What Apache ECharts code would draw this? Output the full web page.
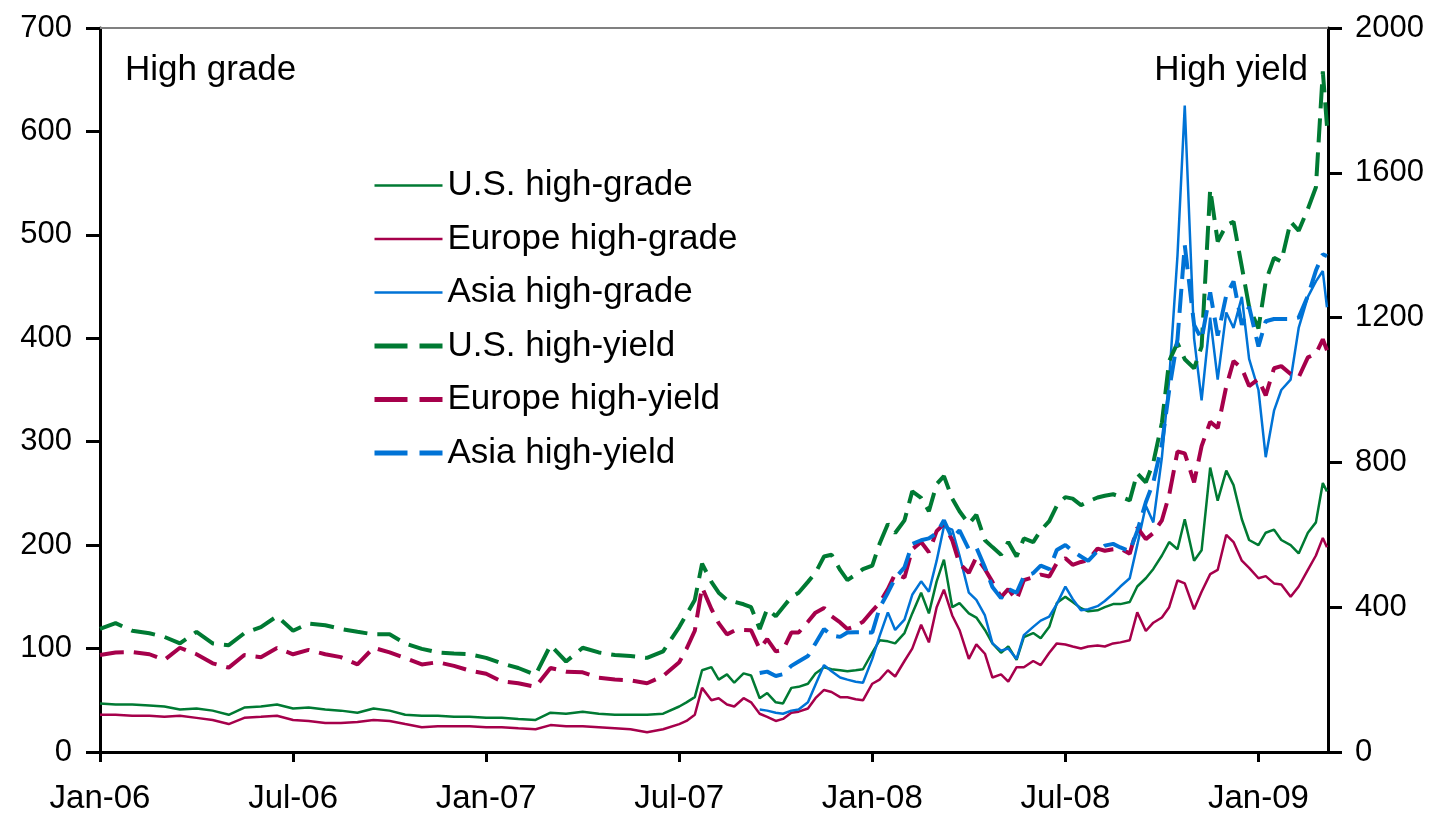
<!DOCTYPE html>
<html>
<head>
<meta charset="utf-8">
<script src="https://cdn.jsdelivr.net/npm/echarts@6/dist/echarts.min.js"></script>
<style>
  html, body { margin: 0; padding: 0; background: #fff; }
  #chart { width: 1438px; height: 816px; }
</style>
</head>
<body>
<div id="chart"></div>
<script>
// sample dates: twice a month to mid 2007, then roughly weekly
var dates = [
  '2006-01-01','2006-01-16','2006-02-01','2006-02-16','2006-03-01','2006-03-16','2006-04-01','2006-04-16',
  '2006-05-01','2006-05-16','2006-06-01','2006-06-16','2006-07-01','2006-07-16','2006-08-01','2006-08-16',
  '2006-09-01','2006-09-16','2006-10-01','2006-10-16','2006-11-01','2006-11-16','2006-12-01','2006-12-16',
  '2007-01-01','2007-01-16','2007-02-01','2007-02-16','2007-03-01','2007-03-16','2007-04-01','2007-04-16',
  '2007-05-01','2007-05-16','2007-06-01','2007-06-16',
  '2007-07-01','2007-07-08','2007-07-16','2007-07-23','2007-08-01','2007-08-08','2007-08-16','2007-08-23',
  '2007-09-01','2007-09-08','2007-09-16','2007-09-23','2007-10-01','2007-10-08','2007-10-16','2007-10-23',
  '2007-11-01','2007-11-08','2007-11-16','2007-11-23','2007-12-01','2007-12-08','2007-12-16','2007-12-23',
  '2008-01-01','2008-01-08','2008-01-16','2008-01-23','2008-02-01','2008-02-08','2008-02-16','2008-02-23',
  '2008-03-01','2008-03-08','2008-03-16','2008-03-23','2008-04-01','2008-04-08','2008-04-16','2008-04-23',
  '2008-05-01','2008-05-08','2008-05-16','2008-05-23','2008-06-01','2008-06-08','2008-06-16','2008-06-23',
  '2008-07-01','2008-07-08','2008-07-16','2008-07-23','2008-08-01','2008-08-08','2008-08-16','2008-08-23',
  '2008-09-01','2008-09-08','2008-09-16','2008-09-23','2008-10-01','2008-10-08','2008-10-16','2008-10-23',
  '2008-11-01','2008-11-08','2008-11-16','2008-11-23','2008-12-01','2008-12-08','2008-12-16','2008-12-23',
  '2009-01-01','2009-01-08','2009-01-16','2009-01-23','2009-02-01','2009-02-08','2009-02-16','2009-02-23',
  '2009-03-01','2009-03-05'
];
// Asia series start later
var asiaStart = '2007-09-16';

// high grade (left axis, bp)
var usHG = [47,46,46,45,44,41,42,40,36,43,44,46,42,43,41,40,38,42,40,36,35,35,34,34,33,33,32,31,38,37,39,37,36,36,36,37,
  44,48,53,79,82,70,75,67,76,74,52,57,48,47,62,63,66,76,82,80,79,78,79,80,96,108,107,105,115,134,154,134,165,186,140,144,
  134,130,118,105,96,102,89,111,115,110,121,144,150,145,139,136,137,140,143,143,145,160,168,177,190,203,196,225,185,195,
  275,243,272,258,225,205,200,212,215,205,200,192,212,222,260,252];
var europeHG = [36,36,35,35,34,35,33,31,27,33,34,35,31,30,28,28,29,31,30,27,24,25,25,25,24,24,23,22,26,25,25,24,23,22,19,22,
  27,30,36,62,50,52,46,44,52,48,37,34,30,32,38,39,42,52,60,58,53,53,51,50,66,70,79,73,88,100,123,106,140,157,132,118,
  90,104,95,72,75,68,82,82,88,84,96,105,104,102,100,102,103,102,105,106,108,135,117,125,130,140,166,163,138,155,
  172,176,210,203,185,178,168,170,163,162,150,160,176,190,207,198];
var asiaHG = [41,40,38,37,40,41,48,65,84,78,72,70,68,67,90,112,135,118,128,152,165,155,185,218,215,190,154,147,132,105,
  98,100,90,113,121,127,131,143,160,148,137,138,141,146,153,160,168,200,238,222,285,360,480,625,400,340,420,360,425,410,
  440,380,350,285,330,350,360,410,440,455,465,430];

// high yield (right axis, bp)
var usHY = [340,356,335,328,318,300,332,300,295,328,345,375,335,355,350,340,332,325,325,300,285,275,272,270,260,245,232,213,295,250,288,275,268,265,260,278,
  345,380,420,520,470,440,420,415,408,400,340,395,375,400,428,440,470,495,540,545,503,475,490,505,515,575,630,605,640,720,
  702,665,740,762,700,665,630,655,585,566,545,580,540,590,580,612,638,680,704,700,682,692,703,708,712,705,695,770,745,800,
  910,1080,1130,1085,1060,1120,1555,1410,1455,1465,1340,1230,1170,1300,1365,1355,1465,1440,1500,1560,1880,1730];
var europeHY = [268,275,276,270,254,288,270,245,233,268,262,287,270,282,270,262,242,288,275,260,242,248,238,225,216,195,190,180,232,222,220,205,200,198,190,210,
  248,285,335,455,395,356,325,335,337,336,285,312,278,282,330,330,360,385,398,375,358,340,348,360,390,412,450,492,482,560,
  580,552,610,630,585,520,495,538,505,470,428,450,420,475,483,490,485,522,535,517,525,530,562,556,560,562,548,620,588,605,
  640,710,830,825,745,845,912,895,1010,1080,1060,1011,1030,985,1060,1066,1044,1035,1090,1100,1140,1110];
var asiaHY = [218,222,210,215,238,250,265,300,340,322,318,330,331,331,330,398,440,480,510,575,585,590,605,640,590,612,
  560,565,510,456,425,450,440,485,494,515,505,558,572,555,540,528,555,570,575,565,555,610,690,745,850,1000,1140,1400,
  1180,1140,1270,1150,1262,1300,1180,1230,1120,1190,1196,1196,1196,1200,1260,1330,1375,1370];

var seriesNames = ['U.S. high-grade', 'Europe high-grade', 'Asia high-grade',
                   'U.S. high-yield', 'Europe high-yield', 'Asia high-yield'];
var tickMonths = ['Jan', 'Jul'];
var endDate = '2009-03-06';

var FONT = 'Liberation Sans';
var GREEN = '#007a33';
var CRIMSON = '#a6004b';
var BLUE = '#0073d6';

function monthIndex(d) {
  var p = d.split('-');
  var y = +p[0], m = +p[1], day = +p[2];
  var dim = new Date(y, m, 0).getDate();
  return (y - 2006) * 12 + (m - 1) + (day - 1) / dim;
}

function pairs(values, start) {
  var off = start ? dates.indexOf(start) : 0;
  return values.map(function (v, i) { return [monthIndex(dates[off + i]), v]; });
}

function makeSeries(name, values, color, axis, dashed, start) {
  return {
    name: name,
    type: 'line',
    yAxisIndex: axis,
    data: pairs(values, start),
    symbol: 'none',
    animation: false,
    lineStyle: dashed
      ? { color: color, width: 4, type: [24, 10] }
      : { color: color, width: 2.5 },
    itemStyle: { color: color }
  };
}

function blackLine(onZero) {
  return { show: true, onZero: onZero, lineStyle: { color: '#000', width: 3 } };
}
function ticks(len) {
  return { show: true, inside: false, length: len, lineStyle: { color: '#000', width: 3 } };
}

var chart = echarts.init(document.getElementById('chart'));

var xMax = monthIndex(endDate);

var legendData = seriesNames.map(function (n, i) {
  return {
    name: n,
    lineStyle: i < 3 ? { width: 2.5, type: 'solid' } : { width: 5, type: [33, 12] }
  };
});

chart.setOption({
  backgroundColor: '#fff',
  animation: false,
  grid: { left: 100, right: 110, top: 28, bottom: 64 },
  legend: {
    orient: 'vertical',
    left: 372,
    top: 168,
    padding: 0,
    itemWidth: 68,
    itemHeight: 28,
    itemGap: 18.5,
    itemStyle: { opacity: 0 },
    textStyle: { color: '#000', fontSize: 35, fontFamily: FONT },
    data: legendData
  },
  graphic: [
    { type: 'text', left: 125, top: 53, style: { text: 'High grade', fontSize: 35, fontFamily: FONT, fill: '#000' } },
    { type: 'text', right: 130, top: 53, style: { text: 'High yield', fontSize: 35, fontFamily: FONT, fill: '#000' } }
  ],
  xAxis: [
    {
      type: 'value',
      min: 0,
      max: xMax,
      interval: 6,
      splitLine: { show: false },
      axisLine: blackLine(true),
      axisTick: ticks(10),
      axisLabel: {
        margin: 30,
        showMaxLabel: false,
        color: '#000', fontSize: 33, fontFamily: FONT,
        formatter: function (v) {
          if (v % 6 !== 0) return '';
          var y = 2006 + Math.floor(v / 12);
          return tickMonths[(v % 12) / 6] + '-' + String(y).slice(2);
        }
      }
    },
    {
      // grey top border of the plot area
      type: 'value', position: 'top', min: 0, max: xMax,
      splitLine: { show: false },
      axisLine: { show: true, onZero: false, lineStyle: { color: '#808080', width: 2 } },
      axisTick: { show: false },
      axisLabel: { show: false }
    }
  ],
  yAxis: [
    {
      type: 'value', min: 0, max: 700, interval: 100,
      splitLine: { show: false },
      axisLine: blackLine(true), axisTick: ticks(14),
      axisLabel: { margin: 28, color: '#000', fontSize: 31, fontFamily: FONT }
    },
    {
      type: 'value', position: 'right', min: 0, max: 2000, interval: 400,
      splitLine: { show: false },
      axisLine: blackLine(false), axisTick: ticks(14),
      axisLabel: { margin: 27, color: '#000', fontSize: 31, fontFamily: FONT,
                   formatter: function (v) { return String(v); } }
    }
  ],
  series: [
    makeSeries(seriesNames[0], usHG, GREEN, 0, false),
    makeSeries(seriesNames[1], europeHG, CRIMSON, 0, false),
    makeSeries(seriesNames[2], asiaHG, BLUE, 0, false, asiaStart),
    makeSeries(seriesNames[3], usHY, GREEN, 1, true),
    makeSeries(seriesNames[4], europeHY, CRIMSON, 1, true),
    makeSeries(seriesNames[5], asiaHY, BLUE, 1, true, asiaStart)
  ]
});
</script>
</body>
</html>
